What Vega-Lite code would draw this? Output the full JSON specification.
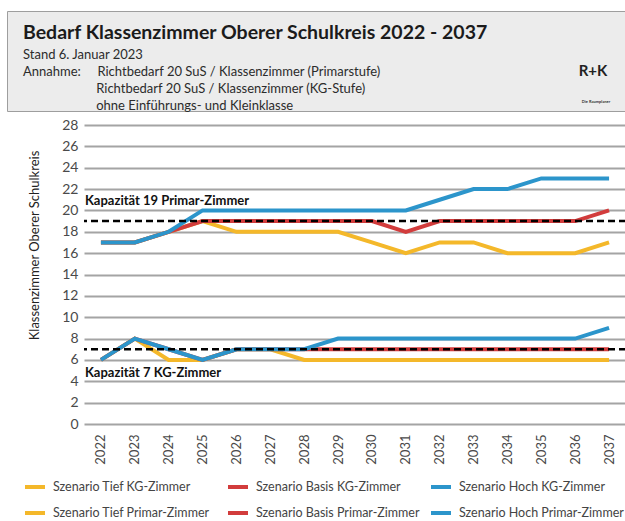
{
  "$schema": "https://vega.github.io/schema/vega-lite/v6.json",
  "padding": {"left": 6, "top": 10, "right": 0, "bottom": 0},
  "background": "white",
  "bounds": "flush",
  "center": true,
  "spacing": 14,
  "resolve": {"scale": {"color": "independent"}},
  "config": {
    "font": "Lato",
    "view": {"stroke": null},
    "axisY": {
      "tickCount": 14, "labelOverlap": false,
      "titleFont": "Lato", "titleFontSize": 13, "titleFontWeight": "normal", "titleColor": "#222222",
      "titleAngle": -90, "titleX": -50, "titleY": 120, "titleAlign": "center", "titleBaseline": "middle",
      "labelFontSize": 14, "labelColor": "#4a4a4a", "labelPadding": 6,
      "ticks": false, "domain": false, "gridColor": "#a4a4a4", "gridWidth": 2
    },
    "axisX": {
      "labelAngle": -90, "labelFontSize": 13, "labelColor": "#4a4a4a", "labelPadding": 10,
      "ticks": false, "domain": false, "grid": false
    }
  },
  "vconcat": [
    {
      "width": 696,
      "height": 100,
      "view": {"fill": "#ececec", "stroke": "#9e9e9e", "strokeWidth": 1},
      "title": {
        "text": "Bedarf Klassenzimmer Oberer Schulkreis 2022 - 2037",
        "subtitle": [
          "Stand 6. Januar 2023",
          "Annahme:\u00a0\u00a0\u00a0\u00a0\u00a0Richtbedarf 20 SuS / Klassenzimmer (Primarstufe)",
          "\u200b\u00a0\u00a0\u00a0\u00a0\u00a0\u00a0\u00a0\u00a0\u00a0\u00a0\u00a0\u00a0\u00a0\u00a0\u00a0\u00a0\u00a0\u00a0\u00a0\u00a0\u00a0\u00a0Richtbedarf 20 SuS / Klassenzimmer (KG-Stufe)",
          "\u200b\u00a0\u00a0\u00a0\u00a0\u00a0\u00a0\u00a0\u00a0\u00a0\u00a0\u00a0\u00a0\u00a0\u00a0\u00a0\u00a0\u00a0\u00a0\u00a0\u00a0\u00a0\u00a0ohne Einführungs- und Kleinklasse"
        ],
        "anchor": "start",
        "frame": "group",
        "orient": "top",
        "offset": -103,
        "dx": 16,
        "font": "Lato",
        "fontSize": 19.5,
        "fontWeight": "bold",
        "color": "#1b1b1b",
        "subtitleFont": "Lato",
        "subtitleFontSize": 13,
        "subtitleColor": "#2b2b2b",
        "subtitlePadding": 6,
        "subtitleLineHeight": 17
      },
      "data": {"values": [{"logo": "R+K", "zusatz": "Die Raumplaner"}]},
      "layer": [
        {
          "mark": {"type": "text", "fontSize": 15, "fontWeight": "bold", "color": "#222222", "align": "center", "baseline": "middle", "dx": -110, "dy": -40},
          "encoding": {"text": {"field": "logo"}, "x": {"value": "width"}, "y": {"value": "height"}}
        },
        {
          "mark": {"type": "text", "fontSize": 4, "fontWeight": "bold", "color": "#333333", "align": "center", "baseline": "middle", "dx": -107, "dy": -9},
          "encoding": {"text": {"field": "zusatz"}, "x": {"value": "width"}, "y": {"value": "height"}}
        }
      ]
    },
    {
      "width": 542,
      "height": 299,
      "data": {"values": [
        {"Jahr": "2022", "Serie": "Szenario Tief KG-Zimmer", "Zimmer": 6},
        {"Jahr": "2023", "Serie": "Szenario Tief KG-Zimmer", "Zimmer": 8},
        {"Jahr": "2024", "Serie": "Szenario Tief KG-Zimmer", "Zimmer": 6},
        {"Jahr": "2025", "Serie": "Szenario Tief KG-Zimmer", "Zimmer": 6},
        {"Jahr": "2026", "Serie": "Szenario Tief KG-Zimmer", "Zimmer": 7},
        {"Jahr": "2027", "Serie": "Szenario Tief KG-Zimmer", "Zimmer": 7},
        {"Jahr": "2028", "Serie": "Szenario Tief KG-Zimmer", "Zimmer": 6},
        {"Jahr": "2029", "Serie": "Szenario Tief KG-Zimmer", "Zimmer": 6},
        {"Jahr": "2030", "Serie": "Szenario Tief KG-Zimmer", "Zimmer": 6},
        {"Jahr": "2031", "Serie": "Szenario Tief KG-Zimmer", "Zimmer": 6},
        {"Jahr": "2032", "Serie": "Szenario Tief KG-Zimmer", "Zimmer": 6},
        {"Jahr": "2033", "Serie": "Szenario Tief KG-Zimmer", "Zimmer": 6},
        {"Jahr": "2034", "Serie": "Szenario Tief KG-Zimmer", "Zimmer": 6},
        {"Jahr": "2035", "Serie": "Szenario Tief KG-Zimmer", "Zimmer": 6},
        {"Jahr": "2036", "Serie": "Szenario Tief KG-Zimmer", "Zimmer": 6},
        {"Jahr": "2037", "Serie": "Szenario Tief KG-Zimmer", "Zimmer": 6},
        {"Jahr": "2022", "Serie": "Szenario Tief Primar-Zimmer", "Zimmer": 17},
        {"Jahr": "2023", "Serie": "Szenario Tief Primar-Zimmer", "Zimmer": 17},
        {"Jahr": "2024", "Serie": "Szenario Tief Primar-Zimmer", "Zimmer": 18},
        {"Jahr": "2025", "Serie": "Szenario Tief Primar-Zimmer", "Zimmer": 19},
        {"Jahr": "2026", "Serie": "Szenario Tief Primar-Zimmer", "Zimmer": 18},
        {"Jahr": "2027", "Serie": "Szenario Tief Primar-Zimmer", "Zimmer": 18},
        {"Jahr": "2028", "Serie": "Szenario Tief Primar-Zimmer", "Zimmer": 18},
        {"Jahr": "2029", "Serie": "Szenario Tief Primar-Zimmer", "Zimmer": 18},
        {"Jahr": "2030", "Serie": "Szenario Tief Primar-Zimmer", "Zimmer": 17},
        {"Jahr": "2031", "Serie": "Szenario Tief Primar-Zimmer", "Zimmer": 16},
        {"Jahr": "2032", "Serie": "Szenario Tief Primar-Zimmer", "Zimmer": 17},
        {"Jahr": "2033", "Serie": "Szenario Tief Primar-Zimmer", "Zimmer": 17},
        {"Jahr": "2034", "Serie": "Szenario Tief Primar-Zimmer", "Zimmer": 16},
        {"Jahr": "2035", "Serie": "Szenario Tief Primar-Zimmer", "Zimmer": 16},
        {"Jahr": "2036", "Serie": "Szenario Tief Primar-Zimmer", "Zimmer": 16},
        {"Jahr": "2037", "Serie": "Szenario Tief Primar-Zimmer", "Zimmer": 17},
        {"Jahr": "2022", "Serie": "Szenario Basis KG-Zimmer", "Zimmer": 6},
        {"Jahr": "2023", "Serie": "Szenario Basis KG-Zimmer", "Zimmer": 8},
        {"Jahr": "2024", "Serie": "Szenario Basis KG-Zimmer", "Zimmer": 7},
        {"Jahr": "2025", "Serie": "Szenario Basis KG-Zimmer", "Zimmer": 6},
        {"Jahr": "2026", "Serie": "Szenario Basis KG-Zimmer", "Zimmer": 7},
        {"Jahr": "2027", "Serie": "Szenario Basis KG-Zimmer", "Zimmer": 7},
        {"Jahr": "2028", "Serie": "Szenario Basis KG-Zimmer", "Zimmer": 7},
        {"Jahr": "2029", "Serie": "Szenario Basis KG-Zimmer", "Zimmer": 7},
        {"Jahr": "2030", "Serie": "Szenario Basis KG-Zimmer", "Zimmer": 7},
        {"Jahr": "2031", "Serie": "Szenario Basis KG-Zimmer", "Zimmer": 7},
        {"Jahr": "2032", "Serie": "Szenario Basis KG-Zimmer", "Zimmer": 7},
        {"Jahr": "2033", "Serie": "Szenario Basis KG-Zimmer", "Zimmer": 7},
        {"Jahr": "2034", "Serie": "Szenario Basis KG-Zimmer", "Zimmer": 7},
        {"Jahr": "2035", "Serie": "Szenario Basis KG-Zimmer", "Zimmer": 7},
        {"Jahr": "2036", "Serie": "Szenario Basis KG-Zimmer", "Zimmer": 7},
        {"Jahr": "2037", "Serie": "Szenario Basis KG-Zimmer", "Zimmer": 7},
        {"Jahr": "2022", "Serie": "Szenario Basis Primar-Zimmer", "Zimmer": 17},
        {"Jahr": "2023", "Serie": "Szenario Basis Primar-Zimmer", "Zimmer": 17},
        {"Jahr": "2024", "Serie": "Szenario Basis Primar-Zimmer", "Zimmer": 18},
        {"Jahr": "2025", "Serie": "Szenario Basis Primar-Zimmer", "Zimmer": 19},
        {"Jahr": "2026", "Serie": "Szenario Basis Primar-Zimmer", "Zimmer": 19},
        {"Jahr": "2027", "Serie": "Szenario Basis Primar-Zimmer", "Zimmer": 19},
        {"Jahr": "2028", "Serie": "Szenario Basis Primar-Zimmer", "Zimmer": 19},
        {"Jahr": "2029", "Serie": "Szenario Basis Primar-Zimmer", "Zimmer": 19},
        {"Jahr": "2030", "Serie": "Szenario Basis Primar-Zimmer", "Zimmer": 19},
        {"Jahr": "2031", "Serie": "Szenario Basis Primar-Zimmer", "Zimmer": 18},
        {"Jahr": "2032", "Serie": "Szenario Basis Primar-Zimmer", "Zimmer": 19},
        {"Jahr": "2033", "Serie": "Szenario Basis Primar-Zimmer", "Zimmer": 19},
        {"Jahr": "2034", "Serie": "Szenario Basis Primar-Zimmer", "Zimmer": 19},
        {"Jahr": "2035", "Serie": "Szenario Basis Primar-Zimmer", "Zimmer": 19},
        {"Jahr": "2036", "Serie": "Szenario Basis Primar-Zimmer", "Zimmer": 19},
        {"Jahr": "2037", "Serie": "Szenario Basis Primar-Zimmer", "Zimmer": 20},
        {"Jahr": "2022", "Serie": "Szenario Hoch KG-Zimmer", "Zimmer": 6},
        {"Jahr": "2023", "Serie": "Szenario Hoch KG-Zimmer", "Zimmer": 8},
        {"Jahr": "2024", "Serie": "Szenario Hoch KG-Zimmer", "Zimmer": 7},
        {"Jahr": "2025", "Serie": "Szenario Hoch KG-Zimmer", "Zimmer": 6},
        {"Jahr": "2026", "Serie": "Szenario Hoch KG-Zimmer", "Zimmer": 7},
        {"Jahr": "2027", "Serie": "Szenario Hoch KG-Zimmer", "Zimmer": 7},
        {"Jahr": "2028", "Serie": "Szenario Hoch KG-Zimmer", "Zimmer": 7},
        {"Jahr": "2029", "Serie": "Szenario Hoch KG-Zimmer", "Zimmer": 8},
        {"Jahr": "2030", "Serie": "Szenario Hoch KG-Zimmer", "Zimmer": 8},
        {"Jahr": "2031", "Serie": "Szenario Hoch KG-Zimmer", "Zimmer": 8},
        {"Jahr": "2032", "Serie": "Szenario Hoch KG-Zimmer", "Zimmer": 8},
        {"Jahr": "2033", "Serie": "Szenario Hoch KG-Zimmer", "Zimmer": 8},
        {"Jahr": "2034", "Serie": "Szenario Hoch KG-Zimmer", "Zimmer": 8},
        {"Jahr": "2035", "Serie": "Szenario Hoch KG-Zimmer", "Zimmer": 8},
        {"Jahr": "2036", "Serie": "Szenario Hoch KG-Zimmer", "Zimmer": 8},
        {"Jahr": "2037", "Serie": "Szenario Hoch KG-Zimmer", "Zimmer": 9},
        {"Jahr": "2022", "Serie": "Szenario Hoch Primar-Zimmer", "Zimmer": 17},
        {"Jahr": "2023", "Serie": "Szenario Hoch Primar-Zimmer", "Zimmer": 17},
        {"Jahr": "2024", "Serie": "Szenario Hoch Primar-Zimmer", "Zimmer": 18},
        {"Jahr": "2025", "Serie": "Szenario Hoch Primar-Zimmer", "Zimmer": 20},
        {"Jahr": "2026", "Serie": "Szenario Hoch Primar-Zimmer", "Zimmer": 20},
        {"Jahr": "2027", "Serie": "Szenario Hoch Primar-Zimmer", "Zimmer": 20},
        {"Jahr": "2028", "Serie": "Szenario Hoch Primar-Zimmer", "Zimmer": 20},
        {"Jahr": "2029", "Serie": "Szenario Hoch Primar-Zimmer", "Zimmer": 20},
        {"Jahr": "2030", "Serie": "Szenario Hoch Primar-Zimmer", "Zimmer": 20},
        {"Jahr": "2031", "Serie": "Szenario Hoch Primar-Zimmer", "Zimmer": 20},
        {"Jahr": "2032", "Serie": "Szenario Hoch Primar-Zimmer", "Zimmer": 21},
        {"Jahr": "2033", "Serie": "Szenario Hoch Primar-Zimmer", "Zimmer": 22},
        {"Jahr": "2034", "Serie": "Szenario Hoch Primar-Zimmer", "Zimmer": 22},
        {"Jahr": "2035", "Serie": "Szenario Hoch Primar-Zimmer", "Zimmer": 23},
        {"Jahr": "2036", "Serie": "Szenario Hoch Primar-Zimmer", "Zimmer": 23},
        {"Jahr": "2037", "Serie": "Szenario Hoch Primar-Zimmer", "Zimmer": 23}
      ]},
      "layer": [
        {
          "mark": {"type": "line", "strokeWidth": 4, "strokeCap": "butt", "strokeJoin": "miter"},
          "encoding": {
            "x": {"field": "Jahr", "type": "ordinal", "title": null, "scale": {"type": "point", "padding": 0.5}},
            "y": {"field": "Zimmer", "type": "quantitative", "title": "Klassenzimmer Oberer Schulkreis", "scale": {"domain": [0, 28], "nice": false}},
            "color": {
              "field": "Serie", "type": "nominal",
              "scale": {
                "domain": ["Szenario Tief KG-Zimmer", "Szenario Basis KG-Zimmer", "Szenario Hoch KG-Zimmer", "Szenario Tief Primar-Zimmer", "Szenario Basis Primar-Zimmer", "Szenario Hoch Primar-Zimmer"],
                "range": ["#f4b82a", "#d23c3c", "#2c95cb", "#f4b82a", "#d23c3c", "#2c95cb"]
              },
              "legend": {
                "orient": "none", "legendX": -61, "legendY": 350,
                "direction": "horizontal", "columns": 3, "title": null,
                "symbolType": "stroke", "symbolSize": 400, "symbolStrokeWidth": 4,
                "labelFontSize": 12.5, "labelColor": "#444444", "labelLimit": 300, "labelOffset": 6,
                "columnPadding": 2, "rowPadding": 6, "gridAlign": "all"
              }
            }
          }
        },
        {
          "data": {"values": [
            {"Kapazität": 19, "Label": "Kapazität 19 Primar-Zimmer"},
            {"Kapazität": 7, "Label": "Kapazität 7 KG-Zimmer"}
          ]},
          "layer": [
            {
              "mark": {"type": "rule", "strokeDash": [7, 4], "strokeWidth": 2.5, "color": "#000000"},
              "encoding": {"y": {"field": "Kapazität", "type": "quantitative", "title": "Klassenzimmer Oberer Schulkreis"}}
            },
            {
              "transform": [{"filter": "datum['Kapazität'] == 19"}],
              "mark": {"type": "text", "align": "left", "baseline": "alphabetic", "dx": -16, "dy": -16, "fontSize": 13, "fontWeight": "bold", "color": "#111111"},
              "encoding": {
                "x": {"datum": "2022", "type": "ordinal", "title": null},
                "y": {"field": "Kapazität", "type": "quantitative", "title": "Klassenzimmer Oberer Schulkreis"},
                "text": {"field": "Label"}
              }
            },
            {
              "transform": [{"filter": "datum['Kapazität'] == 7"}],
              "mark": {"type": "text", "align": "left", "baseline": "alphabetic", "dx": -16, "dy": 28, "fontSize": 13, "fontWeight": "bold", "color": "#111111"},
              "encoding": {
                "x": {"datum": "2022", "type": "ordinal", "title": null},
                "y": {"field": "Kapazität", "type": "quantitative", "title": "Klassenzimmer Oberer Schulkreis"},
                "text": {"field": "Label"}
              }
            }
          ]
        }
      ]
    }
  ]
}
